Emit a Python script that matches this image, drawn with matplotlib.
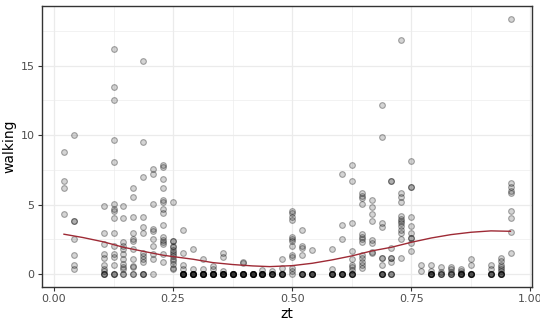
import matplotlib.pyplot as plt
import numpy as np

# time of day sampled in 1/48 steps; walking scores observed at each step
steps = [1, 2, 5, 6, 7, 8, 9, 10, 11, 12, 13, 14, 15, 16, 17, 18, 19, 20, 21,
         22, 23, 24, 25, 26, 28, 29, 30, 31, 32, 33, 34, 35, 36, 37, 38, 39,
         40, 41, 42, 44, 45, 46]

walking_by_step = [
    [8.82, 6.69, 6.19, 4.36],
    [10.0, 3.84, 3.84, 2.54, 1.39, 0.67, 0.38],
    [4.89, 3.0, 2.18, 1.49, 1.2, 0.67, 0.38, 0.2] + [0.0] * 3,
    [16.2, 13.47, 12.54, 9.66, 8.06, 5.08, 4.7, 4.56, 4.03, 3.0, 2.06, 1.46,
     1.22, 0.65] + [0.0] * 3,
    [4.89, 4.03, 2.3, 2.06, 1.82, 1.46, 1.13, 0.72, 0.55, 0.38] + [0.0] * 2,
    [6.19, 5.54, 4.15, 3.0, 2.54, 2.4, 1.82, 1.1, 0.62, 0.5] + [0.0] * 2,
    [15.37, 9.54, 7.03, 4.15, 3.4, 3.0, 1.56, 1.34, 1.1, 0.86] + [0.0] * 3,
    [7.57, 7.24, 5.04, 3.24, 3.12, 2.54, 2.06, 1.46, 1.13, 0.0],
    [7.84, 7.7, 6.88, 6.19, 5.35, 5.23, 4.7, 4.39, 3.53, 2.66, 2.47, 2.3,
     2.18, 1.46, 0.86],
    [5.2, 2.37, 2.37, 2.06, 1.94, 1.77, 1.6, 1.46, 1.29, 1.13, 0.96, 0.72,
     0.43, 0.38],
    [3.19, 1.51, 0.67, 0.38] + [0.0] * 8,
    [1.82, 0.38] + [0.0] * 8,
    [1.08, 0.38] + [0.0] * 8,
    [0.6, 0.38] + [0.0] * 8,
    [1.51, 1.22, 0.26] + [0.0] * 8,
    [0.0] * 8,
    [0.91, 0.79] + [0.0] * 8,
    [0.0] * 8,
    [0.3] + [0.0] * 8,
    [0.26] + [0.0] * 6,
    [1.1, 0.43] + [0.0] * 6,
    [4.58, 4.43, 4.1, 3.91, 2.7, 2.54, 2.42, 2.04, 1.39, 1.27, 0.43, 0.26, 0.0],
    [3.19, 2.04, 1.87, 1.39] + [0.0] * 5,
    [1.73] + [0.0] * 6,
    [1.85, 0.36] + [0.0] * 6,
    [7.22, 3.53, 2.54] + [0.0] * 6,
    [7.87, 6.69, 3.72, 1.7, 1.1, 0.67, 0.5, 0.3] + [0.0] * 5,
    [5.83, 5.66, 5.47, 5.04, 2.88, 2.7, 2.54, 2.35, 1.39, 1.15, 0.91, 0.67,
     0.43],
    [5.35, 4.86, 4.34, 3.83, 2.47, 2.27, 1.63, 1.5],
    [12.2, 9.88, 3.71, 3.38, 1.2, 1.2, 0.67] + [0.0] * 5,
    [6.69, 6.69, 1.87, 1.2, 1.2, 0.9] + [0.0] * 3,
    [16.86, 5.87, 5.54, 5.2, 4.19, 3.98, 3.81, 3.67, 3.47, 3.19, 2.99, 2.56,
     1.2],
    [8.17, 6.3, 6.3, 4.1, 3.47, 2.95, 2.63, 2.63, 2.23, 1.7],
    [0.67, 0.24],
    [0.67, 0.24] + [0.0] * 6,
    [0.5, 0.19] + [0.0] * 3,
    [0.5, 0.36, 0.19] + [0.0] * 3,
    [0.41, 0.26, 0.1] + [0.0] * 5,
    [1.08, 0.65] + [0.0] * 6,
    [0.67, 0.41] + [0.0] * 5,
    [1.2, 0.96, 0.67, 0.5, 0.36, 0.24] + [0.0] * 5,
    [18.37, 6.55, 6.26, 6.02, 5.83, 4.55, 4.03, 3.02, 1.51],
]

# fitted trend of walking over zt
trend_zt = [0.021, 0.061, 0.104, 0.146, 0.1875, 0.229, 0.25, 0.292, 0.333,
            0.375, 0.417, 0.453, 0.5, 0.542, 0.583, 0.625, 0.667, 0.708,
            0.75, 0.792, 0.833, 0.875, 0.917, 0.958]
trend_walking = [2.88, 2.64, 2.33, 1.94, 1.65, 1.37, 1.27, 1.08, 0.84, 0.70,
                 0.60, 0.55, 0.62, 0.79, 1.03, 1.32, 1.68, 1.94, 2.30, 2.61,
                 2.85, 3.02, 3.12, 3.09]

zt = np.concatenate([[s / 48] * len(v) for s, v in zip(steps, walking_by_step)])
walking = np.concatenate(walking_by_step)

fig = plt.figure(figsize=(5.4, 3.27), dpi=100)
ax = fig.add_axes([0.077, 0.123, 0.908, 0.859])

# translucent points: light fill, slightly darker ring
ax.scatter(zt, walking, s=17, facecolor=(0, 0, 0, 0.17),
           edgecolor=(0, 0, 0, 0.33), linewidths=0.8, zorder=3)
ax.plot(trend_zt, trend_walking, color='#9e2a35', linewidth=1.0, zorder=4)

ax.set_xlim(-0.026, 1.003)
ax.set_ylim(-0.9, 19.3)
ax.set_xticks([0, 0.25, 0.5, 0.75, 1.0])
ax.set_xticklabels(['0.00', '0.25', '0.50', '0.75', '1.00'])
ax.set_yticks([0, 5, 10, 15])
ax.set_xticks([0.125, 0.375, 0.625, 0.875], minor=True)
ax.set_yticks([2.5, 7.5, 12.5, 17.5], minor=True)

ax.grid(which='major', color='#ebebeb', linewidth=0.9, zorder=0)
ax.grid(which='minor', color='#ebebeb', linewidth=0.45, zorder=0)
ax.set_axisbelow(True)

for sp in ax.spines.values():
    sp.set_color('#333333')
    sp.set_linewidth(1.0)

ax.tick_params(which='major', length=3, width=0.8, color='#333333',
               labelcolor='#4d4d4d', labelsize=8, pad=2)
ax.tick_params(which='minor', length=0)

ax.set_xlabel('zt', fontsize=10, labelpad=2)
ax.set_ylabel('walking', fontsize=10, labelpad=3)

fig.savefig('out.png', dpi=100)
